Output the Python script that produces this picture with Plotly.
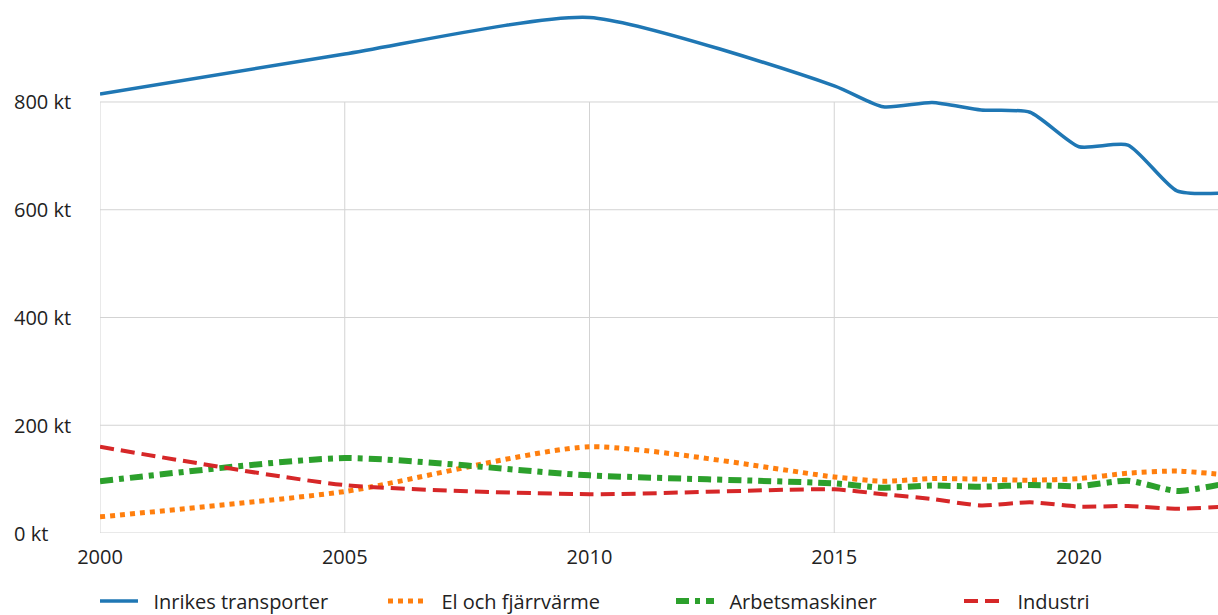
import plotly.graph_objects as go

years = [2000, 2005, 2010, 2015, 2016, 2017, 2018, 2019, 2020, 2021, 2022, 2023]
inrikes = [815, 889, 957, 830, 791, 799, 785, 781, 717, 720, 635, 631]
el_fjarr = [30, 77, 160, 104, 96, 101, 100, 98, 101, 111, 115, 108]
arbets = [96, 139, 107, 92, 84, 88, 86, 89, 87, 97, 78, 92]
industri = [160, 89, 72, 81, 72, 63, 51, 57, 49, 50, 45, 49]

series_names = ["Inrikes transporter", "El och fjärrvärme", "Arbetsmaskiner", "Industri"]
y_ticks = [0, 200, 400, 600, 800]
y_tick_labels = ["0 kt", "200 kt", "400 kt", "600 kt", "800 kt"]
x_ticks = [2000, 2005, 2010, 2015, 2020]
x_grid = [2000, 2005, 2010, 2015]

colors = ["#1f77b4", "#ff7f0e", "#2ca02c", "#d62728"]
dashes = ["solid", "5px,5px", "13px,6px,5px,6px", "14px,7px"]
widths = [3.5, 5, 6, 4]

X0, X1 = 2000, 2022.84
Y1 = 989.3
FONT = "Open Sans"
TXT = "#222222"

fig = go.Figure()
for name, vals, c, d, w in zip(series_names, [inrikes, el_fjarr, arbets, industri], colors, dashes, widths):
    fig.add_trace(go.Scatter(x=years, y=vals, name="\u00a0\u00a0" + name, mode="lines",
                             line=dict(color=c, dash=d, width=w, shape="spline", smoothing=0.6)))

grid_color = "#d3d3d3"
for yv in y_ticks:
    fig.add_shape(type="line", xref="x", yref="y", x0=X0, x1=X1 + 1, y0=yv, y1=yv,
                  line=dict(color=grid_color, width=1), layer="below")
for xv in x_grid:
    fig.add_shape(type="line", xref="x", yref="y", x0=xv, x1=xv, y0=0, y1=800,
                  line=dict(color=grid_color, width=1), layer="below")

for yv, lab in zip(y_ticks, y_tick_labels):
    fig.add_annotation(xref="paper", yref="y", x=0, y=yv, xshift=-88, text=lab,
                       showarrow=False, xanchor="left", yanchor="middle",
                       font=dict(size=20, color=TXT, family=FONT))

fig.update_layout(
    width=1218, height=615,
    margin=dict(l=100, r=0, t=0, b=82, autoexpand=False),
    paper_bgcolor="white", plot_bgcolor="white",
    font=dict(family=FONT, size=20, color=TXT),
    xaxis=dict(range=[X0, X1], tickvals=x_ticks, showgrid=False, zeroline=False,
               showline=False, ticks="", ticklabelstandoff=10,
               tickfont=dict(size=20, color=TXT)),
    yaxis=dict(range=[0, Y1], showgrid=False, zeroline=False, showline=False,
               showticklabels=False, ticks=""),
    legend=dict(orientation="h", x=-0.00001, xanchor="left", y=-0.1276, yanchor="middle",
                entrywidth=240, entrywidthmode="pixels", itemwidth=38, indentation=-5,
                font=dict(size=20, color=TXT)),
    showlegend=True,
)

fig.write_html("out.html", config={"displayModeBar": False},
               post_script="document.body.style.margin='0';document.body.style.overflow='hidden';")
